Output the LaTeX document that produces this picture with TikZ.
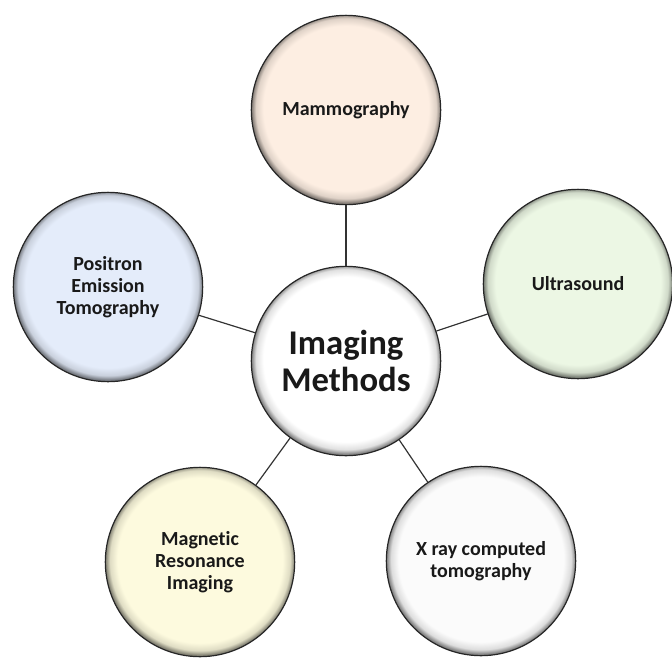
\documentclass[tikz,border=0pt]{standalone}
\usepackage{fontspec}
\setmainfont{Carlito}[Ligatures=NoCommon]
\definecolor{peach}{RGB}{253,238,226}
\definecolor{mint}{RGB}{236,247,228}
\definecolor{skyb}{RGB}{228,236,250}
\definecolor{cream}{RGB}{253,250,222}
\definecolor{pale}{RGB}{251,251,251}
\colorlet{bevelc}{white}
\pgfdeclareradialshading[bevelc]{bevel}{\pgfpoint{0bp}{0.8bp}}{%
  color(0bp)=(bevelc); color(21.8bp)=(bevelc); color(23.8bp)=(bevelc!88!black);
  color(25bp)=(bevelc!50!black); color(50bp)=(bevelc!50!black)}
\begin{document}
\begin{tikzpicture}[
  x=0.75pt, y=-0.75pt,
  bub/.style={circle, draw=black!85, line width=0.9pt, minimum size=142pt,
    inner sep=0pt, align=center, text=black!90,
    font=\bfseries\fontsize{15}{16.5}\selectfont,
    /utils/exec={\colorlet{bevelc}{#1}}, shading=bevel},
  link/.style={draw=black!80, line width=0.9pt}
]
\useasboundingbox (0,0) rectangle (672,658);
\node[bub=white, font=\bfseries\fontsize{26}{28}\selectfont] (c) at (346,361) {Imaging\\Methods};
\node[bub=peach] (mam) at (346,110) {Mammography};
\node[bub=mint] (us) at (578,284) {Ultrasound};
\node[bub=skyb] (pet) at (108,287) {Positron\\Emission\\Tomography};
\node[bub=cream] (mri) at (200,562) {Magnetic\\Resonance\\Imaging};
\node[bub=pale] (xr) at (481,561) {X ray computed\\tomography};
\draw[link] (c) -- (mam);
\draw[link] (c) -- (us);
\draw[link] (c) -- (pet);
\draw[link] (c) -- (mri);
\draw[link] (c) -- (xr);
\end{tikzpicture}
\end{document}
